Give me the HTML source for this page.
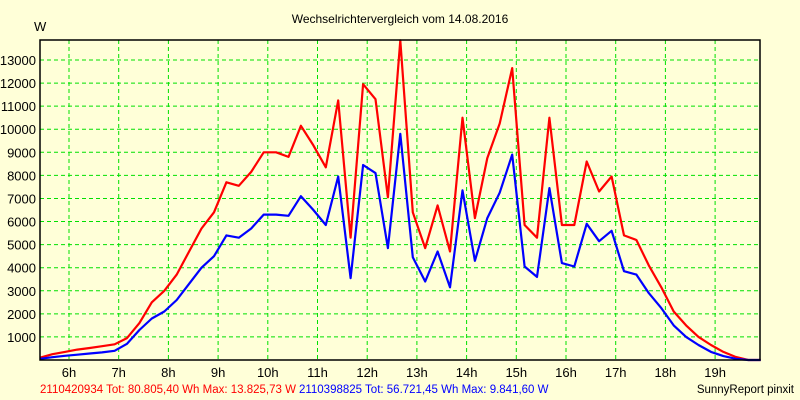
<!DOCTYPE html>
<html><head><meta charset="utf-8"><style>
html,body{margin:0;padding:0;background:#ffffd8;}
svg{display:block;font-family:"Liberation Sans",sans-serif;}
</style></head><body>
<svg id="chart" width="800" height="400" viewBox="0 0 800 400" xmlns="http://www.w3.org/2000/svg">
<rect x="0" y="0" width="800" height="400" fill="#ffffd8"/>
<text x="400" y="23" text-anchor="middle" font-size="12" fill="#000">Wechselrichtervergleich vom 14.08.2016</text>
<text x="34" y="31" font-size="13" fill="#000">W</text>
<g id="grid"></g>
<g id="yticks"></g>
<g id="xticks"></g>
<g id="series"></g>
<rect x="40" y="40" width="720" height="320" fill="none" stroke="#000" stroke-width="1.5"/>
<text x="40" y="393" font-size="11.5"><tspan fill="#ff0000">2110420934 Tot: 80.805,40 Wh Max: 13.825,73 W</tspan><tspan fill="#0000ff" dx="3">2110398825 Tot: 56.721,45 Wh Max: 9.841,60 W</tspan></text>
<text x="794" y="393" text-anchor="end" font-size="11.5" fill="#000">SunnyReport pinxit</text>
</svg>
<script>
const yTicks = [1000,2000,3000,4000,5000,6000,7000,8000,9000,10000,11000,12000,13000];
const xTicks = [6,7,8,9,10,11,12,13,14,15,16,17,18,19];
const startHour = 5.4167;
const stepHour = 0.25;
const redValues = [100,250,350,450,520,600,680,950,1600,2500,3000,3700,4700,5700,6400,7700,7550,8150,9000,9000,8800,10150,9300,8350,11250,5300,11950,11300,7050,13850,6400,4850,6700,4700,10500,6150,8750,10250,12650,5850,5300,10500,5850,5850,8600,7300,7950,5400,5200,4100,3150,2100,1500,1000,650,350,130,0,0];
const blueValues = [50,120,180,230,280,330,400,700,1300,1800,2100,2600,3300,4000,4500,5400,5300,5700,6300,6300,6250,7100,6500,5850,7950,3550,8450,8100,4850,9800,4450,3400,4700,3150,7350,4300,6150,7250,8900,4050,3600,7450,4200,4050,5900,5150,5600,3850,3700,2900,2250,1500,1000,650,350,170,50,0,0];
const NS = "http://www.w3.org/2000/svg";
function xScale(h){ return 69 + (h - 6) * 49.7; }
function yScale(v){ return 360 - v * 0.023077; }
const grid = document.getElementById('grid');
const yt = document.getElementById('yticks');
const xt = document.getElementById('xticks');
yTicks.forEach(v => {
  const l = document.createElementNS(NS,'line');
  
  
  l.setAttribute('x1',40); l.setAttribute('x2',760);
  l.setAttribute('y1',yScale(v)); l.setAttribute('y2',yScale(v));
  l.setAttribute('stroke','#00e000'); l.setAttribute('stroke-dasharray','4,3');
  grid.appendChild(l);
  const t = document.createElementNS(NS,'text');
  
  
  t.setAttribute('x',36); t.setAttribute('y',yScale(v)+5);
  t.setAttribute('text-anchor','end'); t.setAttribute('font-size','13');
  t.textContent = v;
  yt.appendChild(t);
});
xTicks.forEach(h => {
  const l = document.createElementNS(NS,'line');
  
  
  l.setAttribute('x1',xScale(h)); l.setAttribute('x2',xScale(h));
  l.setAttribute('y1',40); l.setAttribute('y2',360);
  l.setAttribute('stroke','#00e000'); l.setAttribute('stroke-dasharray','4,3');
  grid.appendChild(l);
  const t = document.createElementNS(NS,'text');
  
  
  t.setAttribute('x',xScale(h)); t.setAttribute('y',377);
  t.setAttribute('text-anchor','middle'); t.setAttribute('font-size','13');
  t.textContent = h + 'h';
  xt.appendChild(t);
});
function drawLine(vals, color, name){
  const pts = vals.map((v,i) => xScale(startHour + i*stepHour).toFixed(1) + ',' + yScale(v).toFixed(1)).join(' ');
  const p = document.createElementNS(NS,'polyline');
  
  
  p.setAttribute('points', pts);
  p.setAttribute('fill','none'); p.setAttribute('stroke',color);
  p.setAttribute('stroke-width','2.2'); p.setAttribute('stroke-linejoin','round');
  document.getElementById('series').appendChild(p);
}
drawLine(redValues, '#ff0000', 'series-2110420934');
drawLine(blueValues, '#0000ff', 'series-2110398825');
</script>
</body></html>
